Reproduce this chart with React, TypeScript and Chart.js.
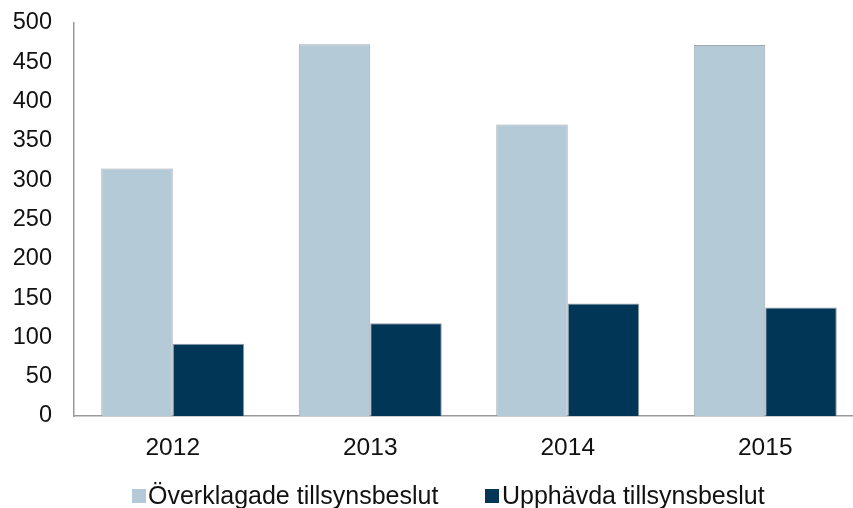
import React, { useEffect, useRef } from "react";
import { Chart, registerables } from "chart.js";

Chart.register(...registerables);

const categories = ["2012", "2013", "2014", "2015"];
const overklagade = [315, 473, 371, 472];
const upphavda = [92, 118, 143, 138];
const seriesNames = ["Överklagade tillsynsbeslut", "Upphävda tillsynsbeslut"];
const colors = ["#b5cad7", "#023657"];

const FONT = "'Liberation Sans', Arial, sans-serif";

export default function App() {
  const ref = useRef<HTMLCanvasElement | null>(null);

  useEffect(() => {
    if (!ref.current) return;
    const chart = new Chart(ref.current, {
      type: "bar",
      data: {
        labels: categories,
        datasets: [
          {
            label: seriesNames[0],
            data: overklagade,
            backgroundColor: colors[0],
            borderColor: "rgba(150,160,168,0.9)",
            borderWidth: 1,
            categoryPercentage: 0.724,
            barPercentage: 1,
          },
          {
            label: seriesNames[1],
            data: upphavda,
            backgroundColor: colors[1],
            borderColor: "rgba(120,130,140,0.8)",
            borderWidth: 1,
            categoryPercentage: 0.724,
            barPercentage: 1,
          },
        ],
      },
      options: {
        responsive: false,
        animation: false,
        layout: { padding: { top: 23, right: 6, left: 0, bottom: 0 } },
        plugins: {
          legend: { display: false },
          tooltip: { enabled: false },
        },
        scales: {
          x: {
            grid: { display: false, drawTicks: false },
            border: { display: true, color: "#9a9a9a", width: 1.5 },
            ticks: {
              color: "#111",
              font: { family: FONT, size: 24.5 },
              padding: 18,
            },
            afterFit: (s: any) => {
              s.height = 92;
            },
          },
          y: {
            min: 0,
            max: 500,
            grid: { display: false, drawTicks: false },
            border: { display: true, color: "#9a9a9a", width: 1.5 },
            ticks: {
              stepSize: 50,
              color: "#111",
              font: { family: FONT, size: 23.5 },
              padding: 22,
            },
            afterFit: (s: any) => {
              s.width = 74;
              s.paddingTop = 10;
              s.paddingBottom = 10;
            },
          },
        },
      },
    });
    return () => chart.destroy();
  }, []);

  const legendText: React.CSSProperties = {
    position: "absolute",
    top: 481,
    fontFamily: FONT,
    fontSize: 25,
    color: "#111",
    whiteSpace: "nowrap",
    lineHeight: "28px",
  };
  const box = (left: number, c: string): React.CSSProperties => ({
    position: "absolute",
    left,
    top: 489,
    width: 14,
    height: 14,
    background: c,
  });

  return (
    <div
      style={{
        position: "fixed",
        left: 0,
        top: 0,
        width: 853,
        height: 508,
        overflow: "hidden",
        background: "#fff",
      }}
    >
      <canvas ref={ref} width={870} height={508} style={{ position: "absolute", left: 0, top: 0 }} />
      <div style={box(132, colors[0])} />
      <div style={{ ...legendText, left: 148 }}>{seriesNames[0]}</div>
      <div style={box(485, colors[1])} />
      <div style={{ ...legendText, left: 502 }}>{seriesNames[1]}</div>
    </div>
  );
}
